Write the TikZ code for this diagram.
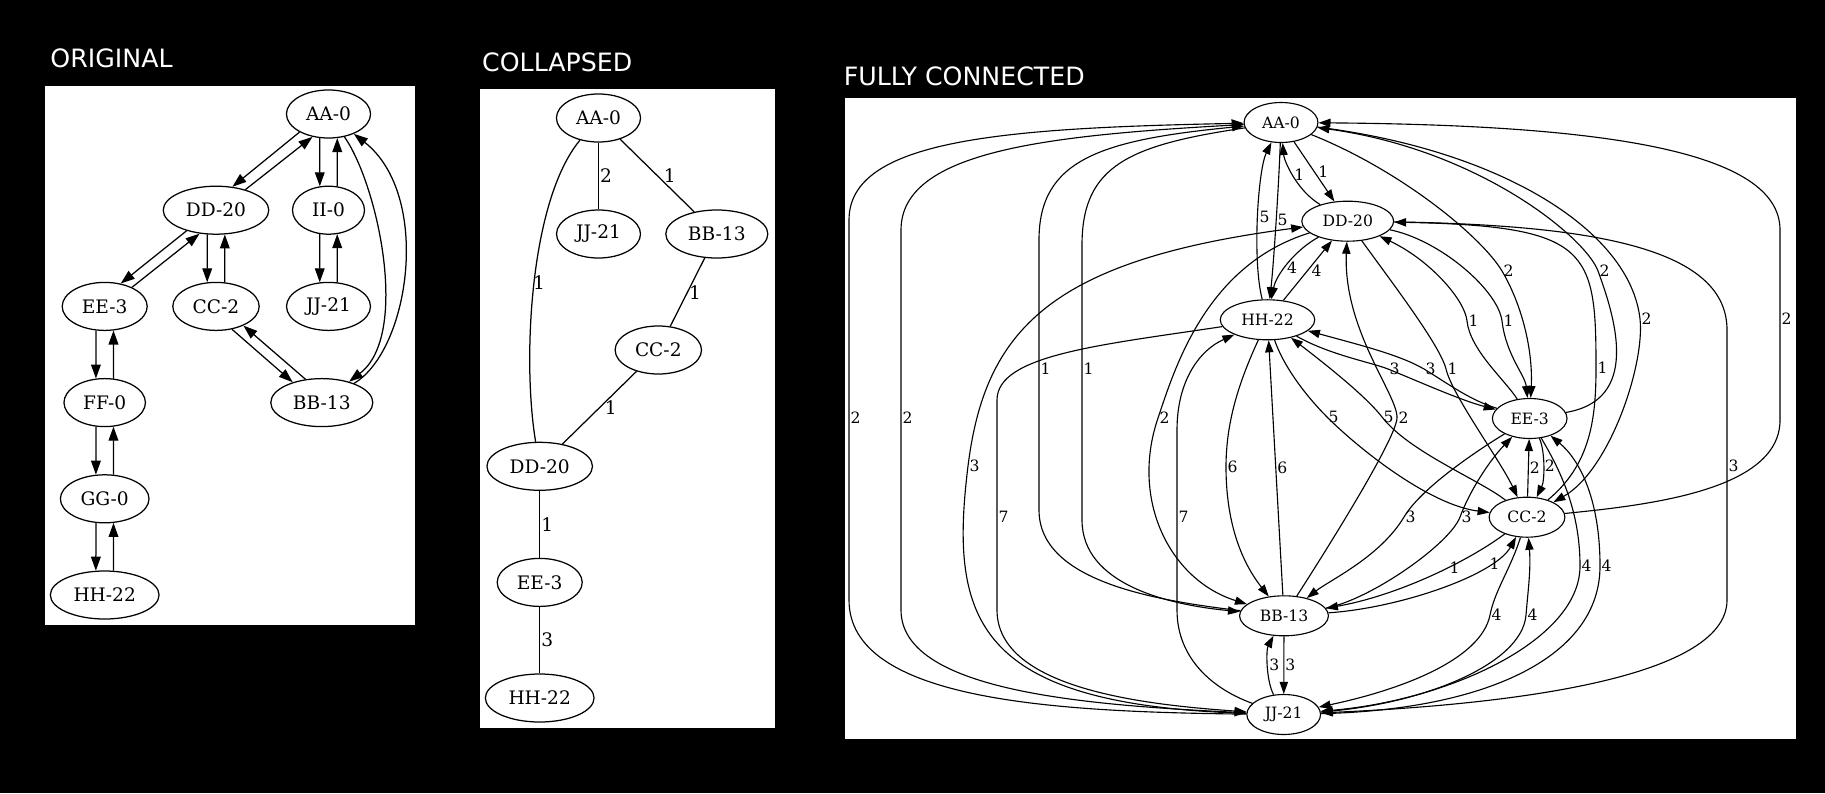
\documentclass[tikz,border=0pt]{standalone}
\usepackage{fontspec}
\newfontfamily\gvfont{DejaVu Serif}
\newfontfamily\capfont{DejaVu Sans}
\usetikzlibrary{arrows.meta, shapes.geometric}

\begin{document}
\begin{tikzpicture}[x=0.4pt, y=-0.4pt]
\tikzset{vertex/.style={ellipse, draw, inner xsep=2.9pt, inner ysep=0pt, minimum width=28.8pt, minimum height=19.2pt, font=\gvfont\fontsize{7.44}{8}\selectfont},
		fvertex/.style={vertex, minimum width=24pt, minimum height=16pt, font=\gvfont\fontsize{6.24}{7}\selectfont},
		wlabel/.style={anchor=west, inner sep=0.4pt, font=\gvfont\fontsize{7.44}{8}\selectfont},
		flabel/.style={anchor=west, inner sep=0.4pt, font=\gvfont\fontsize{6.24}{7}\selectfont},
		caption/.style={anchor=base west, inner sep=0pt, text=white, font=\capfont\fontsize{10.1}{12}\selectfont},
		panel/.style={fill=white}}
\fill[black] (0,0) rectangle (1825,793);
\fill[panel] (45,86) rectangle (415,624.5);
\fill[panel] (480,88.8) rectangle (774.5,728);
\fill[panel] (845,98.3) rectangle (1795.5,739.3);
\node[caption] (T1) at (50,67.3) {ORIGINAL};
\node[caption] (T2) at (481.7,71.8) {COLLAPSED};
\node[caption] (T3) at (843.3,85) {FULLY CONNECTED};

\begin{scope}[line width=0.5pt, >={Triangle[length=5.6pt,width=3.9pt]}]
\node[vertex] (AA1) at (328.5,114) {AA-0};
\node[vertex] (DD1) at (216,210.2) {DD-20};
\node[vertex] (II1) at (328.5,210.2) {II-0};
\node[vertex] (EE1) at (104.7,306.4) {EE-3};
\node[vertex] (CC1) at (216,306.4) {CC-2};
\node[vertex] (JJ1) at (328.5,306.4) {JJ-21};
\node[vertex] (FF1) at (104.7,402.6) {FF-0};
\node[vertex] (BB1) at (321.8,402.6) {BB-13};
\node[vertex] (GG1) at (104.7,498.8) {GG-0};
\node[vertex] (HH1) at (104.7,595) {HH-22};
\draw[->] (AA1.-148) -- (DD1.55);
\draw[->] (DD1.35) -- (AA1.-125);
\draw[->] (AA1.-110) -- (II1.110);
\draw[->] (II1.70) -- (AA1.-70);
\draw[->] (II1.-110) -- (JJ1.110);
\draw[->] (JJ1.70) -- (II1.-70);
\draw[->] (DD1.-145) -- (EE1.55);
\draw[->] (EE1.35) -- (DD1.-125);
\draw[->] (DD1.-110) -- (CC1.110);
\draw[->] (CC1.70) -- (DD1.-70);
\draw[->] (CC1.-55) -- (BB1.145);
\draw[->] (BB1.125) -- (CC1.-35);
\draw[->] (AA1) .. controls (378,185) and (410,335) .. (BB1);
\draw[->] (BB1) .. controls (410,350) and (432,195) .. (AA1);
\draw[->] (EE1.-110) -- (FF1.110);
\draw[->] (FF1.70) -- (EE1.-70);
\draw[->] (FF1.-110) -- (GG1.110);
\draw[->] (GG1.70) -- (FF1.-70);
\draw[->] (GG1.-110) -- (HH1.110);
\draw[->] (HH1.70) -- (GG1.-70);
\end{scope}

\begin{scope}[line width=0.5pt]
\node[vertex] (AA2) at (598.5,118) {AA-0};
\node[vertex] (JJ2) at (598.5,234) {JJ-21};
\node[vertex] (BB2) at (716.8,234) {BB-13};
\node[vertex] (CC2) at (658.3,350) {CC-2};
\node[vertex] (DD2) at (539.7,466.3) {DD-20};
\node[vertex] (EE2) at (539.7,582.4) {EE-3};
\node[vertex] (HH2) at (539.7,698) {HH-22};
\draw (AA2) -- node[wlabel] {2} (JJ2);
\draw (AA2) -- node[wlabel, xshift=2pt] {1} (BB2);
\draw (AA2) .. controls (530,200) and (522,360) .. node[wlabel, xshift=-1pt] {1} (DD2);
\draw (BB2) -- node[wlabel] {1} (CC2);
\draw (CC2) -- node[wlabel, xshift=1.5pt] {1} (DD2);
\draw (DD2) -- node[wlabel] {1} (EE2);
\draw (EE2) -- node[wlabel] {3} (HH2);
\end{scope}

\begin{scope}[line width=0.45pt, >={Triangle[length=4.8pt,width=3.3pt]}]
\node[fvertex] (AA3) at (1281,122.5) {AA-0};
\node[fvertex] (DD3) at (1347.7,221.2) {DD-20};
\node[fvertex] (HH3) at (1267.5,319.8) {HH-22};
\node[fvertex] (EE3) at (1529.7,418.5) {EE-3};
\node[fvertex] (CC3) at (1527,517.2) {CC-2};
\node[fvertex] (BB3) at (1284,615.8) {BB-13};
\node[fvertex] (JJ3) at (1283.7,714.5) {JJ-21};
\draw[<-] (AA3) .. controls (1284,160) and (1296,190) .. node[flabel] {1} (DD3);
\draw[->] (AA3) -- node[flabel, xshift=1pt] {1} (DD3);
\draw[->] (AA3) .. controls (1279,180) and (1274,260) .. node[flabel] {5} (HH3);
\draw[<-] (AA3) .. controls (1258,170) and (1252,260) .. node[flabel] {5} (HH3);
\draw[<-] (AA3) .. controls (1000,128) and (849,140) .. (849,220) -- (849,418) node[flabel] {2} -- (849,600) .. controls (849,700) and (1050,712) .. (JJ3);
\draw[->] (AA3) .. controls (1050,135) and (901,150) .. (901,230) -- (901,418) node[flabel] {2} -- (901,610) .. controls (901,690) and (1080,705) .. (JJ3);
\draw[<-] (AA3) .. controls (1100,140) and (1039,160) .. (1039,240) -- (1039,369) node[flabel] {1} -- (1039,510) .. controls (1039,580) and (1150,600) .. (BB3);
\draw[->] (AA3) .. controls (1130,145) and (1082,165) .. (1082,245) -- (1082,369) node[flabel] {1} -- (1082,520) .. controls (1082,585) and (1170,605) .. (BB3);
\draw[->] (AA3) .. controls (1400,170) and (1481,236) .. (1502,271) node[flabel] {2} .. controls (1522,305) and (1533,350) .. (EE3);
\draw[<-] (AA3) .. controls (1480,150) and (1586,238) .. (1598,271) node[flabel] {2} .. controls (1616,320) and (1640,400) .. (EE3);
\draw[->] (AA3) .. controls (1500,150) and (1630,230) .. (1640,319) node[flabel] {2} .. controls (1645,364) and (1610,470) .. (CC3);
\draw[<-] (AA3) .. controls (1600,125) and (1780,150) .. (1780,230) -- (1780,319) node[flabel] {2} -- (1780,420) .. controls (1780,490) and (1650,505) .. (CC3);
\draw[->] (DD3) .. controls (1295,250) and (1276,275) .. node[flabel, pos=0.55] {4} (HH3);
\draw[->] (HH3) -- node[flabel, xshift=1pt] {4} (DD3);
\draw[<-] (DD3) .. controls (1430,260) and (1465,300) .. (1467,321) node[flabel] {1} .. controls (1470,350) and (1505,380) .. (EE3);
\draw[->] (DD3) .. controls (1440,240) and (1498,290) .. (1502,321) node[flabel] {1} .. controls (1506,355) and (1525,375) .. (EE3);
\draw[->] (DD3) .. controls (1390,280) and (1440,345) .. (1446,369) node[flabel] {1} .. controls (1452,395) and (1500,460) .. (CC3);
\draw[<-] (DD3) .. controls (1590,226) and (1596,250) .. (1596,368) node[flabel] {1} .. controls (1596,420) and (1590,465) .. (CC3);
\draw[->] (DD3) .. controls (1205,265) and (1174,371) .. (1158,418) node[flabel] {2} .. controls (1130,500) and (1170,580) .. (BB3);
\draw[<-] (DD3) .. controls (1343,330) and (1398,395) .. (1397,418) node[flabel] {2} .. controls (1396,440) and (1320,560) .. (BB3);
\draw[<-] (DD3) .. controls (1050,260) and (985,330) .. (968,466) node[flabel] {3} .. controls (949,620) and (975,705) .. (JJ3);
\draw[->] (DD3) .. controls (1600,225) and (1727,250) .. (1727,330) -- (1727,466) node[flabel] {3} -- (1727,600) .. controls (1727,680) and (1500,705) .. (JJ3);
\draw[<-] (HH3) .. controls (1360,345) and (1400,355) .. (1424,369) node[flabel] {3} .. controls (1450,385) and (1470,400) .. (EE3);
\draw[->] (HH3) .. controls (1330,355) and (1370,362) .. (1388,369) node[flabel] {3} .. controls (1420,382) and (1460,400) .. (EE3);
\draw[->] (HH3) .. controls (1285,370) and (1310,400) .. (1327,417) node[flabel] {5} .. controls (1360,450) and (1430,505) .. (CC3);
\draw[<-] (HH3) .. controls (1320,360) and (1365,395) .. (1382,417) node[flabel] {5} .. controls (1409,452) and (1480,480) .. (CC3);
\draw[->] (HH3) .. controls (1240,380) and (1226,420) .. (1226,467) node[flabel] {6} .. controls (1226,520) and (1240,560) .. (BB3);
\draw[->] (BB3) -- node[flabel] {6} (HH3);
\draw[->] (HH3) .. controls (1100,345) and (997,355) .. (997,400) -- (997,517) node[flabel] {7} -- (997,610) .. controls (997,690) and (1150,705) .. (JJ3);
\draw[<-] (HH3) .. controls (1200,350) and (1177,380) .. (1177,430) -- (1177,517) node[flabel] {7} -- (1177,610) .. controls (1177,660) and (1215,690) .. (JJ3);
\draw[->] (CC3) -- node[flabel] {2} (EE3);
\draw[->] (EE3) .. controls (1545,450) and (1545,480) .. node[flabel] {2} (CC3);
\draw[->] (EE3) .. controls (1470,455) and (1420,490) .. (1404,517) node[flabel] {3} .. controls (1380,557) and (1330,580) .. (BB3);
\draw[<-] (EE3) .. controls (1490,460) and (1470,490) .. (1460,517) node[flabel] {3} .. controls (1450,544) and (1370,600) .. (BB3);
\draw[->] (EE3) .. controls (1560,470) and (1580,510) .. (1580,566) node[flabel] {4} .. controls (1580,640) and (1450,700) .. (JJ3);
\draw[<-] (EE3) .. controls (1580,460) and (1600,500) .. (1600,566) node[flabel] {4} .. controls (1600,660) and (1480,710) .. (JJ3);
\draw[->] (CC3) .. controls (1470,560) and (1400,595) .. node[flabel, pos=0.4] {1} (BB3);
\draw[->] (BB3) .. controls (1400,608) and (1495,575) .. node[flabel, pos=0.75] {1} (CC3);
\draw[->] (CC3) .. controls (1510,570) and (1495,590) .. (1490,615) node[flabel] {4} .. controls (1481,660) and (1400,690) .. (JJ3);
\draw[<-] (CC3) .. controls (1531,570) and (1528,590) .. (1526,615) node[flabel] {4} .. controls (1522,665) and (1420,705) .. (JJ3);
\draw[->] (BB3) -- node[flabel] {3} (JJ3);
\draw[<-] (BB3) .. controls (1266,650) and (1266,680) .. node[flabel] {3} (JJ3);
\end{scope}
\end{tikzpicture}
\end{document}
